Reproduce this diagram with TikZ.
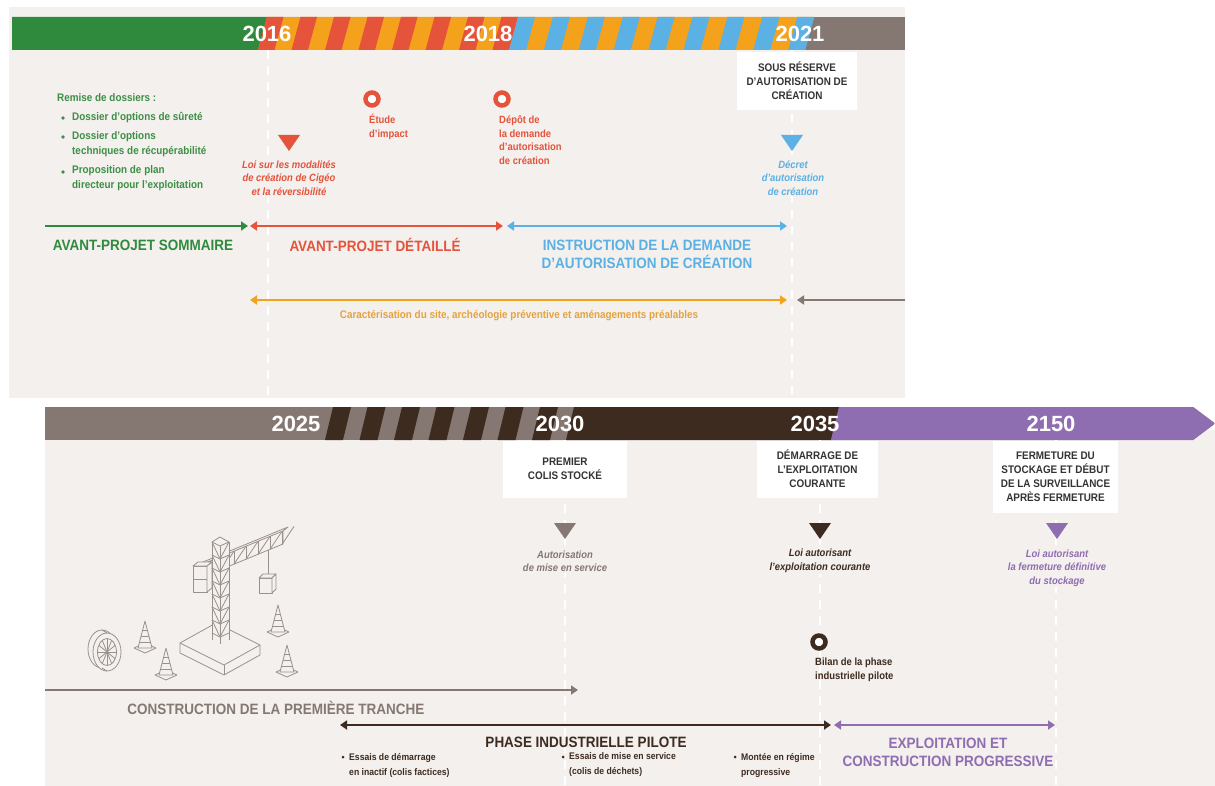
\documentclass[tikz,border=0pt]{standalone}
\usepackage{fontspec}
\setmainfont{Liberation Sans}[FakeStretch=0.9]
\newfontfamily\yearfont{Liberation Sans}
\usetikzlibrary{arrows.meta}

\definecolor{panelbg}{HTML}{F3F0EE}
\definecolor{apsgreen}{HTML}{2F8A3D}
\definecolor{listgreen}{HTML}{3D8F45}
\definecolor{apdred}{HTML}{E5533B}
\definecolor{caracorange}{HTML}{F4A11C}
\definecolor{caratext}{HTML}{E6A23C}
\definecolor{instrblue}{HTML}{5BB0E4}
\definecolor{constrgray}{HTML}{857873}
\definecolor{pilotbrown}{HTML}{3E2B1F}
\definecolor{exploitpurple}{HTML}{8F6DB1}
\definecolor{boxtext}{HTML}{333333}
\definecolor{cranegray}{HTML}{9A918C}

\tikzset{
  >={Triangle[width=9pt,length=7pt]},
  phasearrow/.style={line width=1.8pt,draw=#1},
  phasetitle/.style={text=#1,font=\bfseries\fontsize{15}{18}\selectfont,align=center,inner sep=0pt},
  eventnote/.style={text=#1,fill=panelbg,font=\bfseries\itshape\fontsize{10.5}{13.5}\selectfont,align=center,inner sep=1pt},
  milebox/.style={fill=white,text=boxtext,font=\bfseries\fontsize{11}{14}\selectfont,align=center,inner sep=0pt},
  ring/.style={circle,draw=#1,line width=4.5pt,fill=white,minimum size=13pt,inner sep=0pt},
  yearlabel/.style={text=white,font=\yearfont\bfseries\fontsize{22}{22}\selectfont,inner sep=0pt},
  yearline/.style={white,line width=1.5pt,dash pattern=on 9pt off 7pt},
  smalltext/.style={text=#1,font=\bfseries\fontsize{11}{15}\selectfont,align=left,inner sep=0pt},
  bullettext/.style={text=pilotbrown,font=\bfseries\fontsize{9.6}{15}\selectfont,align=left,inner sep=0pt}
}

\begin{document}
\begin{tikzpicture}[x=1pt,y=-1pt]
  \useasboundingbox (0,0) rectangle (1215,786);
  \fill[white] (0,0) rectangle (1215,786);

  % 2016 - 2021
  \fill[panelbg] (9,7) rectangle (905,398);
  \begin{scope}
    \clip (12,17) rectangle (905,50);
    \fill[constrgray] (12,17) rectangle (905,50);
    \fill[apsgreen] (12,50) -- (258,50) -- (267,17) -- (12,17) -- cycle;
    \fill[caracorange] (258,50) -- (805,50) -- (814,17) -- (267,17) -- cycle;
    \foreach \k in {0,...,7}
      \fill[apdred] ({258+33.5*\k},50) -- ++(16.5,0) -- ++(9,-33) -- ++(-16.5,0) -- cycle;
    \foreach \k in {0,...,8}
      \fill[instrblue] ({509+34.9*\k},50) -- ++(17,0) -- ++(9,-33) -- ++(-17,0) -- cycle;
  \end{scope}
  \node[yearlabel] (t2016) at (267,34) {2016};
  \node[yearlabel] (t2018) at (488,34) {2018};
  \node[yearlabel] (t2021) at (800,34) {2021};

  \coordinate (l2016a) at (268,50);
  \coordinate (l2016b) at (268,398);
  \coordinate (l2021a) at (792,50);
  \coordinate (l2021b) at (792,398);
  \draw[yearline] (l2016a) -- (l2016b);
  \draw[yearline] (l2021a) -- (l2021b);

  \node[smalltext=listgreen,anchor=west] (remise) at (57,98) {Remise de dossiers :};
  \node[smalltext=listgreen,anchor=west] (dos1) at (72,118) {Dossier d'options de sûreté};
  \node[smalltext=listgreen,anchor=west] (dos2) at (72,144.5) {Dossier d'options\\techniques de récupérabilité};
  \node[smalltext=listgreen,anchor=west] (dos3) at (72,178.5) {Proposition de plan\\directeur pour l'exploitation};
  \foreach \by in {118,137,172} \fill[listgreen] (63,\by) circle (1.8);

  \foreach \tx/\ty/\tc in {289/135/apdred,792/135/instrblue}
    \fill[\tc] (\tx-11,\ty) -- (\tx+11,\ty) -- (\tx,\ty+16) -- cycle;

  \node[eventnote=apdred] (loi) at (289,178) {Loi sur les modalités\\de création de Cigéo\\et la réversibilité};
  \node[ring=apdred] (etude) at (372,99) {};
  \node[smalltext=apdred,anchor=west,font=\bfseries\fontsize{10.5}{13.5}\selectfont] (etudetxt) at (369,127) {Étude\\d'impact};
  \node[ring=apdred] (depot) at (502,99) {};
  \node[smalltext=apdred,anchor=west,font=\bfseries\fontsize{10.5}{13.5}\selectfont] (depottxt) at (499,140) {Dépôt de\\la demande\\d'autorisation\\de création};
  \node[milebox,minimum width=120pt,minimum height=58pt] (reserve) at (797,81) {SOUS RÉSERVE\\D'AUTORISATION DE\\CRÉATION};
  \node[eventnote=instrblue] (decret) at (793,178) {Décret\\d'autorisation\\de création};

  \coordinate (aps-start) at (45,226);
  \coordinate (aps-end) at (248,226);
  \coordinate (apd-start) at (250,226);
  \coordinate (apd-end) at (503,226);
  \coordinate (inst-start) at (507,226);
  \coordinate (inst-end) at (787,226);
  \coordinate (cara-start) at (250,300);
  \coordinate (cara-end) at (787,300);
  \coordinate (suite-start) at (905,300);
  \coordinate (suite-end) at (797,300);
  \draw[phasearrow=apsgreen,->] (aps-start) -- (aps-end);
  \draw[phasearrow=apdred,<->] (apd-start) -- (apd-end);
  \draw[phasearrow=instrblue,<->] (inst-start) -- (inst-end);
  \draw[phasearrow=caracorange,<->] (cara-start) -- (cara-end);
  \draw[phasearrow=constrgray,->] (suite-start) -- (suite-end);

  \node[phasetitle=apsgreen] (aps) at (143,245) {AVANT-PROJET SOMMAIRE};
  \node[phasetitle=apdred] (apd) at (375,245) {AVANT-PROJET DÉTAILLÉ};
  \node[phasetitle=instrblue] (inst) at (647,254) {INSTRUCTION DE LA DEMANDE\\D'AUTORISATION DE CRÉATION};
  \node[smalltext=caratext] (cara) at (519,316) {Caractérisation du site, archéologie préventive et aménagements préalables};

  % 2025 - 2150
  \fill[panelbg] (45,430) rectangle (1215,786);
  \begin{scope}
    \clip (45,407) -- (1193,407) -- (1215,423.5) -- (1193,440) -- (45,440) -- cycle;
    \fill[constrgray] (45,407) rectangle (1215,440);
    \foreach \k in {0,...,6}
      \fill[pilotbrown] ({325+34.5*\k},440) -- ++(18,0) -- ++(8,-33) -- ++(-18,0) -- cycle;
    \fill[pilotbrown] (566,440) -- (831,440) -- (839,407) -- (574,407) -- cycle;
    \fill[exploitpurple] (831,440) -- (1215,440) -- (1215,407) -- (839,407) -- cycle;
  \end{scope}
  \node[yearlabel] (t2025) at (296,424) {2025};
  \node[yearlabel] (t2030) at (560,424) {2030};
  \node[yearlabel] (t2035) at (815,424) {2035};
  \node[yearlabel] (t2150) at (1051,424) {2150};

  \coordinate (l2030a) at (565,440);
  \coordinate (l2030b) at (565,786);
  \coordinate (l2035a) at (820,440);
  \coordinate (l2035b) at (820,786);
  \coordinate (l2150a) at (1056,440);
  \coordinate (l2150b) at (1056,786);
  \draw[yearline] (l2030a) -- (l2030b);
  \draw[yearline] (l2035a) -- (l2035b);
  \draw[yearline] (l2150a) -- (l2150b);
  \foreach \tx/\ty/\tc in {565/523/constrgray,820/523/pilotbrown,1057/523/exploitpurple}
    \fill[\tc] (\tx-11,\ty) -- (\tx+11,\ty) -- (\tx,\ty+16) -- cycle;

  \node[milebox,minimum width=124pt,minimum height=57pt] (premier) at (565,469) {PREMIER\\COLIS STOCKÉ};
  \node[milebox,minimum width=121pt,minimum height=57pt] (demarrage) at (817.5,469) {DÉMARRAGE DE\\L'EXPLOITATION\\COURANTE};
  \node[milebox,minimum width=125pt,minimum height=72pt] (fermeture) at (1055.5,476.5) {FERMETURE DU\\STOCKAGE ET DÉBUT\\DE LA SURVEILLANCE\\APRÈS FERMETURE};

  \node[eventnote=constrgray] (miseserv) at (565,561) {Autorisation\\de mise en service};
  \node[eventnote=pilotbrown] (loiexpl) at (820,561) {Loi autorisant\\l'exploitation courante};
  \node[eventnote=exploitpurple] (loiferm) at (1057,568) {Loi autorisant\\la fermeture définitive\\du stockage};
  \node[ring=pilotbrown] (bilan) at (819,642) {};
  \node[smalltext=pilotbrown,anchor=west,font=\bfseries\fontsize{10.5}{14}\selectfont] (bilantxt) at (815,670) {Bilan de la phase\\industrielle pilote};

  \coordinate (constr-start) at (45,690);
  \coordinate (constr-end) at (578,690);
  \coordinate (pilot-start) at (340,725);
  \coordinate (pilot-end) at (831,725);
  \coordinate (expl-start) at (834,725);
  \coordinate (expl-end) at (1055,725);
  \draw[phasearrow=constrgray,->] (constr-start) -- (constr-end);
  \draw[phasearrow=pilotbrown,<->] (pilot-start) -- (pilot-end);
  \draw[phasearrow=exploitpurple,<->] (expl-start) -- (expl-end);

  \node[phasetitle=constrgray] (constr) at (276,708) {CONSTRUCTION DE LA PREMIÈRE TRANCHE};
  \node[phasetitle=pilotbrown] (pilot) at (586,742) {PHASE INDUSTRIELLE PILOTE};
  \node[phasetitle=exploitpurple] (expl) at (948,752) {EXPLOITATION ET\\CONSTRUCTION PROGRESSIVE};

  \foreach \bx in {343,563,735} \fill[pilotbrown] (\bx,757) circle (1.5);
  \node[bullettext,anchor=west] (essai1) at (349,765) {Essais de démarrage\\en inactif (colis factices)};
  \node[bullettext,anchor=west] (essai2) at (569,765) {Essais de mise en service\\(colis de déchets)};
  \node[bullettext,anchor=west] (montee) at (741,765) {Montée en régime\\progressive};

  % crane
  \begin{scope}[cranegray,line width=0.8pt,line join=round]
    \filldraw[fill=panelbg] (180,643) -- (216,623) -- (260,645) -- (224,665) -- cycle;
    \draw (180,643) -- (180,653) -- (224,675) -- (260,655) -- (260,645);
    \draw (224,665) -- (224,675);
    \draw (198,566) -- (283,531) -- (283,544) -- (198,579) -- cycle;
    \draw (198,566) -- (203,562) -- (288,527) -- (283,531);
    \foreach \jx in {198,210,...,282} {
      \draw (\jx,{566-(\jx-198)*0.412}) -- (\jx,{579-(\jx-198)*0.412});
      \draw (\jx,{579-(\jx-198)*0.412}) -- ({\jx+12},{566-(\jx+12-198)*0.412});
    }
    \filldraw[fill=panelbg] (193,566) rectangle (207,579);
    \filldraw[fill=panelbg] (193,579) rectangle (207,592);
    \filldraw[fill=panelbg] (193,566) -- (198,562) -- (212,562) -- (207,566) -- cycle;
    \filldraw[fill=panelbg] (207,566) -- (212,562) -- (212,588) -- (207,592) -- cycle;
    \fill[panelbg] (212,542) -- (220,546) -- (229,542) -- (229,640) -- (220,644) -- (212,640) -- cycle;
    \draw (212,542) -- (212,640) (220,546) -- (220,644) (229,542) -- (229,640);
    \draw (212,542) -- (220,537) -- (229,542);
    \foreach \ty in {542,555,...,633}
      \draw (212,\ty) -- (220,\ty+4) -- (229,\ty);
    \foreach \ty in {542,555,...,620}
      \draw (212,\ty) -- (220,\ty+17) (229,\ty) -- (220,\ty+17);
    \draw (268,550) -- (268,576);
    \filldraw[fill=panelbg] (259,578) rectangle (272,593);
    \filldraw[fill=panelbg] (259,578) -- (263,574) -- (276,574) -- (272,578) -- cycle;
    \filldraw[fill=panelbg] (272,578) -- (276,574) -- (276,589) -- (272,593) -- cycle;
    \foreach \cx/\cy in {145/648,166/675,278/632,287/672} {
      \filldraw[fill=panelbg] (\cx-11,\cy) -- (\cx,\cy-5) -- (\cx+11,\cy) -- (\cx,\cy+5) -- cycle;
      \filldraw[fill=panelbg] (\cx-7,\cy) -- (\cx,\cy-27) -- (\cx+7,\cy) -- cycle;
      \draw (\cx-5.5,\cy-6) -- (\cx+5.5,\cy-6) (\cx-4,\cy-12) -- (\cx+4,\cy-12) (\cx-2.5,\cy-18) -- (\cx+2.5,\cy-18);
    }
    \filldraw[fill=panelbg] (102,649) ellipse [x radius=14, y radius=19];
    \filldraw[fill=panelbg] (107,652) ellipse [x radius=14, y radius=19];
    \draw (102,630) -- (107,633) (102,668) -- (107,671);
    \draw (107,652) ellipse [x radius=9.5, y radius=13.5];
    \foreach \a in {0,30,...,150}
      \draw (107,652) -- +(\a:9.5 and 13.5) (107,652) -- +(\a+180:9.5 and 13.5);
  \end{scope}
\end{tikzpicture}
\end{document}
